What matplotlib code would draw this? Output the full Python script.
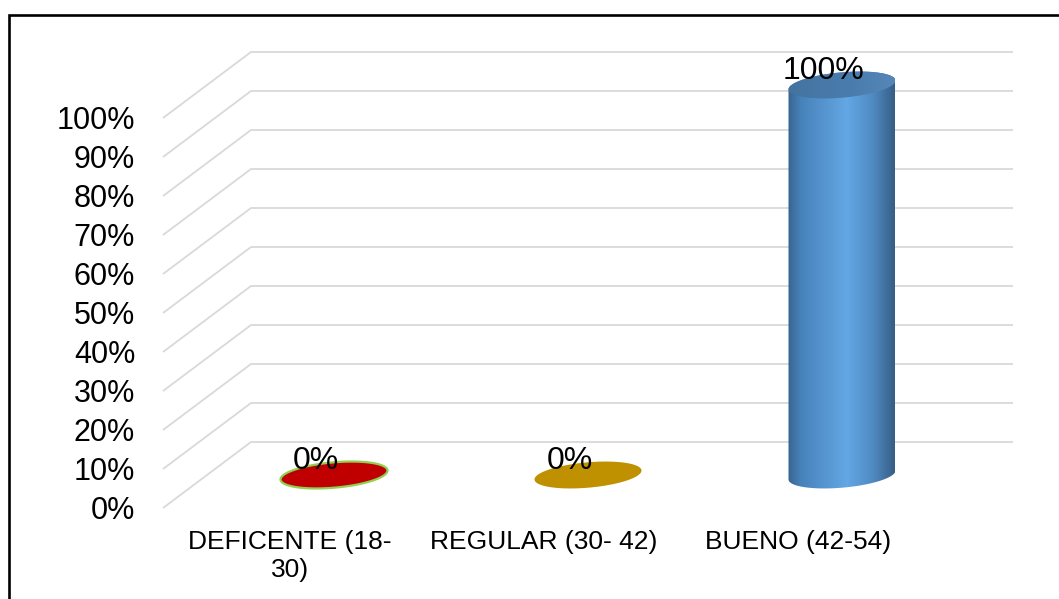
import numpy as np
import matplotlib
matplotlib.use("Agg")
import matplotlib.pyplot as plt
from matplotlib.patches import Polygon, Rectangle
from matplotlib.colors import LinearSegmentedColormap

# ---- data ----
categories = ["DEFICENTE (18-\n30)", "REGULAR (30- 42)", "BUENO (42-54)"]
values = [0, 0, 100]                      # percent
value_labels = ["0%", "0%", "100%"]
bar_colors = ["#C00000", "#BF9000", "#5B9BD5"]
edge_colors = ["#92D050", "none", "none"]
ticks = list(range(0, 101, 10))
tick_labels = [f"{t}%" for t in ticks]

plt.rcParams["font.family"] = ["Liberation Sans", "DejaVu Sans"]

W, H, DPI = 1059, 599, 100
fig = plt.figure(figsize=(W / DPI, H / DPI), dpi=DPI)
fig.patch.set_facecolor("white")

# ---- layout (pixels) ----
back_left_px = 251          # left edge of the back wall
cat_px = 254                # pixels per category
base_px = 442               # back wall 0% line (from top)
pct_px = 3.9                # pixels per percent
depth_dx_px, depth_dy_px = -88, 66   # back-to-front offset of the floor

ax = fig.add_axes([0, 0, 1, 1])
XLIM = (-0.5 + (0 - back_left_px) / cat_px, -0.5 + (W - back_left_px) / cat_px)
YLIM = ((base_px - H) / pct_px, base_px / pct_px)
ax.axis("off")

DX = depth_dx_px / cat_px     # depth offset in category units
DY = -depth_dy_px / pct_px    # depth offset in percent units
n = len(categories)
x_lo, x_hi = -0.5, n - 0.5

# ---- walls: gridlines bent along the floor depth ----
for t, tl in zip(ticks, tick_labels):
    ax.plot([x_lo + DX, x_lo, x_hi], [t + DY, t, t], color="#D9D9D9",
            lw=1.3, solid_capstyle="butt", zorder=1)
    ax.annotate(tl, (x_lo + DX, t + DY), xytext=(-20, -2),
                textcoords="offset points", ha="right", va="center",
                fontsize=22, color="black")

# ---- cylinder geometry ----
a = 53.5 / cat_px             # half width (category units)
b = 12.7 / pct_px             # half height of the ellipse (percent units)
shear = 0.083 * cat_px / pct_px


def ellipse_pts(cx, cy, t0, t1, num=120):
    t = np.linspace(t0, t1, num)
    dx = a * np.cos(t)
    return cx + dx, cy + b * np.sin(t) + shear * dx


body_cmap = LinearSegmentedColormap.from_list(
    "body", [(0.0, "#38648F"), (0.12, "#4782BA"), (0.55, "#63A7E4"),
             (0.8, "#4F8AC2"), (1.0, "#365D84")])
top_cmap = LinearSegmentedColormap.from_list(
    "top", [(0.0, "#44739F"), (0.6, "#4A7DAE"), (1.0, "#5587B8")])

for i, (v, col, ec, lab) in enumerate(zip(values, bar_colors, edge_colors, value_labels)):
    cx = i + DX / 2
    y0 = DY / 2
    y1 = v + DY / 2
    if v > 0:
        # body: lower arc of base, up the right side, across the upper arc of the top
        bx, by = ellipse_pts(cx, y0, np.pi, 2 * np.pi)
        tx, ty = ellipse_pts(cx, y1, 0, np.pi)
        body = Polygon(np.column_stack([np.r_[bx, tx], np.r_[by, ty]]),
                       closed=True, facecolor="none", edgecolor="none")
        ax.add_patch(body)
        grad = np.linspace(0, 1, 256)[None, :]
        im = ax.imshow(grad, cmap=body_cmap, aspect="auto",
                       extent=[cx - a, cx + a, y0 - 2 * b, y1 + 2 * b],
                       zorder=2, interpolation="bicubic")
        im.set_clip_path(body)
        # top cap
        ex, ey = ellipse_pts(cx, y1, 0, 2 * np.pi)
        cap = Polygon(np.column_stack([ex, ey]), closed=True,
                      facecolor="none", edgecolor="none")
        ax.add_patch(cap)
        im2 = ax.imshow(grad, cmap=top_cmap, aspect="auto",
                        extent=[cx - a, cx + a, y1 - 2 * b, y1 + 2 * b],
                        zorder=3, interpolation="bicubic")
        im2.set_clip_path(cap)
    else:
        ex, ey = ellipse_pts(cx, y1, 0, 2 * np.pi)
        ax.add_patch(Polygon(np.column_stack([ex, ey]), closed=True,
                             facecolor=col, edgecolor=ec,
                             lw=1.6 if ec != "none" else 0, zorder=3))
    ax.annotate(lab, (cx, y1), xytext=(-13, 10), textcoords="offset points",
                ha="center", va="center", fontsize=23, color="black", zorder=5)

# fixed view after imshow
ax.set_xlim(*XLIM)
ax.set_ylim(*YLIM)

# ---- category labels on the front edge of the floor ----
for i, c in enumerate(categories):
    ax.annotate(c, (i + DX, DY), xytext=(0, -15.5), textcoords="offset points",
                ha="center", va="top", fontsize=19, color="black",
                multialignment="center", linespacing=1.25)

# ---- chart frame ----
fig.add_artist(Rectangle((8.5 / W, -0.05), 1.2, (H - 14.5) / H + 0.05,
                         transform=fig.transFigure, fill=False,
                         edgecolor="black", lw=1.9))

fig.savefig("out.png", dpi=DPI, facecolor="white")
